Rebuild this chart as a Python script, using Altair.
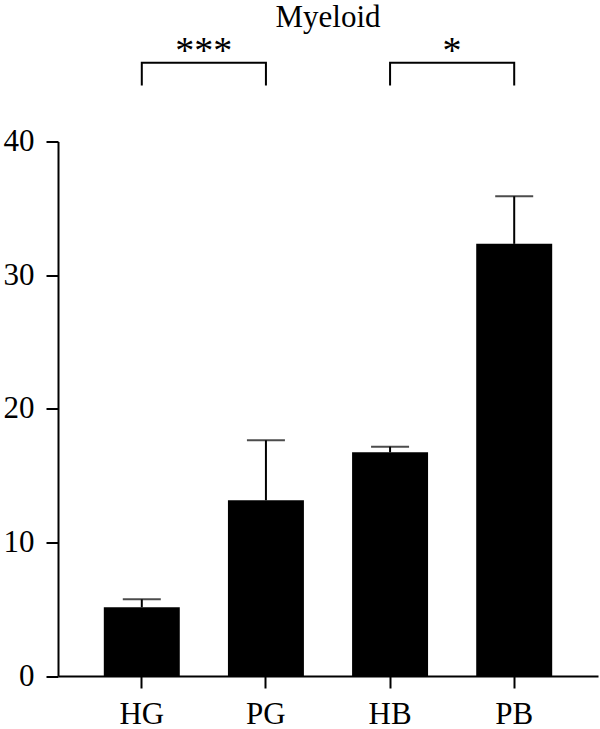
import altair as alt
import pandas as pd

# ---- data ----
groups = ["HG", "PG", "HB", "PB"]
means = [5.14, 13.15, 16.74, 32.34]
sems = [0.60, 4.49, 0.42, 3.56]

pair_left = ["HG", "HB"]
pair_right = ["PG", "PB"]
pair_labels = ["***", "*"]
bracket_top = [45.9, 45.9]
bracket_bottom = [44.2, 44.2]
label_y = [45.85, 45.85]

y_ticks = [0, 10, 20, 30, 40]

FONT = "Liberation Serif"

df = pd.DataFrame({"group": groups, "mean": means, "sem": sems})
df["upper"] = df["mean"] + df["sem"]

# bracket polyline points
rows = []
for i, (l, r) in enumerate(zip(pair_left, pair_right)):
    rows += [
        {"id": i, "k": 0, "group": l, "y": bracket_bottom[i]},
        {"id": i, "k": 1, "group": l, "y": bracket_top[i]},
        {"id": i, "k": 2, "group": r, "y": bracket_top[i]},
        {"id": i, "k": 3, "group": r, "y": bracket_bottom[i]},
    ]
br = pd.DataFrame(rows)
lab = pd.DataFrame({"group": pair_left, "label": pair_labels, "y": label_y})

xscale = alt.Scale(domain=groups, paddingInner=0.388, paddingOuter=0.369)
yscale = alt.Scale(domain=[0, 40], nice=False)

X = alt.X("group:N", scale=xscale, sort=groups, title=None,
          axis=alt.Axis(labelAngle=0, labelPadding=11, grid=False))

bars = alt.Chart(df).mark_bar(color="black").encode(
    x=X,
    y=alt.Y("mean:Q", scale=yscale, title=None,
            axis=alt.Axis(values=y_ticks, grid=False, labelPadding=12)),
)

err = alt.Chart(df).mark_rule(color="black", strokeWidth=2).encode(
    x=X,
    y=alt.Y("mean:Q", scale=yscale, title=None),
    y2="upper:Q",
)

cap = alt.Chart(df).mark_tick(color="black", size=38, thickness=2).encode(
    x=X,
    y=alt.Y("upper:Q", scale=yscale, title=None),
)

brackets = alt.Chart(br).mark_line(color="black", strokeWidth=2).encode(
    x=X,
    y=alt.Y("y:Q", scale=yscale, title=None),
    detail="id:N",
    order="k:Q",
)

stars = alt.Chart(lab).mark_text(
    font=FONT, fontSize=38, color="black", baseline="alphabetic", align="center", dx=62
).encode(
    x=X,
    y=alt.Y("y:Q", scale=yscale, title=None),
    text="label:N",
)

chart = (
    alt.layer(bars, err, cap, brackets, stars)
    .properties(
        width=540,
        height=534.5,
        padding={"left": 58, "top": 141.5, "right": 2, "bottom": 53},
        autosize=alt.AutoSizeParams(type="none"),
        title=alt.TitleParams("Myeloid", font=FONT, fontSize=31, fontWeight="normal",
                              color="black", anchor="middle", offset=-1),
    )
    .configure_view(stroke=None)
    .configure_axis(
        labelFont=FONT,
        labelFontSize=31,
        labelColor="black",
        domainColor="black",
        domainWidth=2,
        tickColor="black",
        tickWidth=2,
        tickSize=12,
    )
)

chart.save("out.html", embed_options={"renderer": "svg", "actions": False})
